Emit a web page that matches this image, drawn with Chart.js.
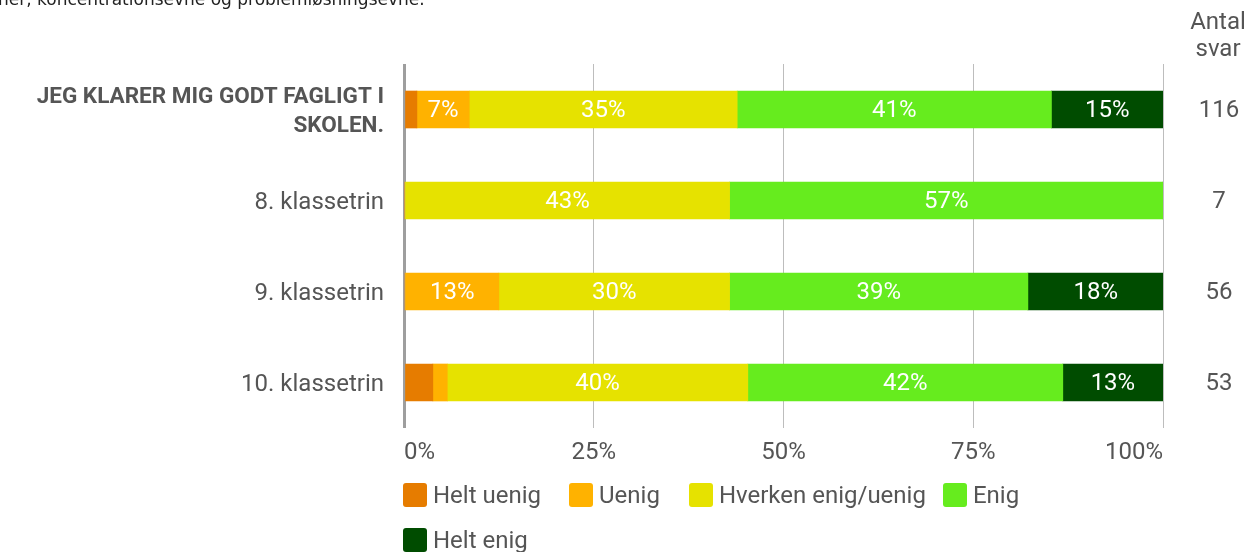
<!DOCTYPE html>
<html>
<head>
<meta charset="utf-8">
<script src="https://cdn.jsdelivr.net/npm/chart.js@4.4.1/dist/chart.umd.min.js"></script>
<style>
  html, body { margin: 0; padding: 0; background: #fff; }
  #wrap { position: relative; width: 1247px; height: 552px; overflow: hidden; }
  #intro { position: absolute; left: -2px; top: -11px; font: 17px "DejaVu Sans", sans-serif; color: #222; white-space: nowrap; }
  #legend { position: absolute; left: 403px; top: 472px; width: 700px; display: flex; flex-wrap: wrap;
            font: 24px Roboto, sans-serif; color: #555; }
  .item { display: flex; align-items: center; height: 45px; }
  .box { width: 24px; height: 24px; border-radius: 3px; margin-right: 6px; }
</style>
</head>
<body>
<div id="wrap">
  <div id="intro">ner, koncentrationsevne og problemløsningsevne.</div>
  <canvas id="chart" width="1247" height="552"></canvas>
  <div id="legend"></div>
</div>
<script>
// categories (first one is the question itself, shown bold)
const categories = [
  ['JEG KLARER MIG GODT FAGLIGT I', 'SKOLEN.'],
  '8. klassetrin',
  '9. klassetrin',
  '10. klassetrin'
];
const answerCounts = [116, 7, 56, 53];

const seriesNames = ['Helt uenig', 'Uenig', 'Hverken enig/uenig', 'Enig', 'Helt enig'];
const seriesColors = ['#E67C00', '#FFB200', '#E6E200', '#66EC1E', '#004C00'];

// percentages per series, one value per category
const heltUenig = [1.7, 0, 0, 3.8];
const uenig     = [6.9, 0, 12.5, 1.9];
const hverken   = [35.3, 42.9, 30.4, 39.6];
const enig      = [41.4, 57.1, 39.3, 41.5];
const heltEnig  = [14.7, 0, 17.9, 13.2];

const xTicks = [0, 25, 50, 75, 100];

const seriesValues = [heltUenig, uenig, hverken, enig, heltEnig];
const grey = '#555';
const fontSize = 24;

// white percentage labels inside the bars
const barLabels = {
  id: 'barLabels',
  afterDatasetsDraw(chart) {
    const ctx = chart.ctx;
    ctx.save();
    ctx.font = fontSize + 'px Roboto';
    ctx.fillStyle = '#fff';
    ctx.textAlign = 'center';
    ctx.textBaseline = 'middle';
    chart.data.datasets.forEach((ds, i) => {
      chart.getDatasetMeta(i).data.forEach((el, j) => {
        const v = ds.data[j];
        if (v < 5) return;
        const p = el.getCenterPoint();
        ctx.fillText(Math.round(v) + '%', p.x, p.y + 1);
      });
    });
    ctx.restore();
  }
};

// "Antal svar" column on the right
const countColumn = {
  id: 'countColumn',
  afterDraw(chart) {
    const ctx = chart.ctx;
    const y = chart.scales.y;
    ctx.save();
    ctx.font = fontSize + 'px Roboto';
    ctx.fillStyle = grey;
    ctx.textAlign = 'center';
    ctx.textBaseline = 'middle';
    ctx.fillText('Antal', 1218, 23);
    ctx.fillText('svar', 1218, 50);
    answerCounts.forEach((n, i) => {
      ctx.fillText(String(n), 1219, y.getPixelForValue(i) + 1);
    });
    ctx.restore();
  }
};

const chart = new Chart(document.getElementById('chart'), {
  type: 'bar',
  data: {
    labels: categories,
    datasets: seriesNames.map((name, i) => ({
      label: name,
      data: seriesValues[i],
      backgroundColor: seriesColors[i],
      borderWidth: 0,
      barThickness: 37
    }))
  },
  options: {
    indexAxis: 'y',
    responsive: false,
    animation: false,
    layout: { padding: { top: 64, right: 84, left: 0, bottom: 0 } },
    plugins: {
      legend: { display: false },
      tooltip: { enabled: false }
    },
    scales: {
      x: {
        stacked: true,
        min: 0,
        max: 100,
        afterBuildTicks: s => { s.ticks = xTicks.map(v => ({ value: v })); },
        afterFit: s => { s.height = 124; },
        border: { display: false },
        grid: {
          drawTicks: false,
          color: c => c.index === 0 ? '#9e9e9e' : '#bdbdbd',
          lineWidth: c => c.index === 0 ? 3 : 1
        },
        ticks: {
          padding: 11,
          align: 'inner',
          color: grey,
          font: { family: 'Roboto', size: fontSize },
          callback: v => v + '%'
        }
      },
      y: {
        stacked: true,
        afterFit: s => { s.width = 404; },
        border: { display: false },
        grid: { display: false, drawTicks: false },
        ticks: {
          padding: 20,
          labelOffset: 2,
          color: grey,
          font: c => c.index === 0
            ? { family: 'Roboto', size: 22.5, weight: 'bold', lineHeight: 1.3 }
            : { family: 'Roboto', size: fontSize }
        }
      }
    }
  },
  plugins: [barLabels, countColumn]
});

// html legend, wraps like the original
const legendGaps = [28, 29, 17, 29, 0];
const legend = document.getElementById('legend');
seriesNames.forEach((name, i) => {
  const item = document.createElement('div');
  item.className = 'item';
  item.style.marginRight = legendGaps[i] + 'px';
  const box = document.createElement('div');
  box.className = 'box';
  box.style.background = seriesColors[i];
  const txt = document.createElement('span');
  txt.textContent = name;
  item.appendChild(box);
  item.appendChild(txt);
  legend.appendChild(item);
});
</script>
</body>
</html>
